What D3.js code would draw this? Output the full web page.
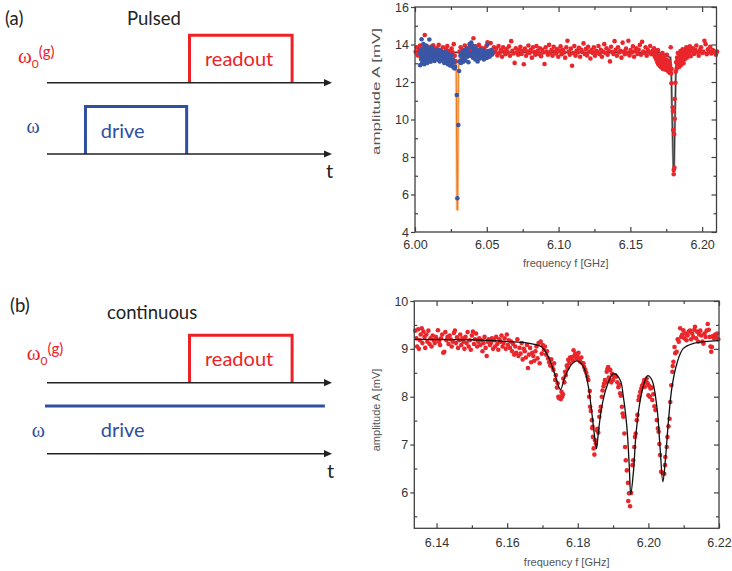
<!DOCTYPE html>
<html>
<head>
<meta charset="utf-8">
<script src="https://d3js.org/d3.v7.min.js"></script>
<style>
body { margin: 0; background: #fff; }
svg { display: block; }
.tick text { font-family: "Liberation Sans", Arial, sans-serif; font-size: 12.5px; fill: #333; }
.tick line { stroke: #404040; stroke-width: 1.2; }
.lab { font-family: "Liberation Sans", Arial, sans-serif; font-size: 11px; fill: #555; }
</style>
</head>
<body>
<svg id="fig" width="732" height="571"></svg>
<script>
// ---- schematic timing (time units 0..10 on each t axis)
var readoutPulse = [5.0, 8.6];
var drivePulse = [1.35, 4.9];
var contDrive = [-0.07, 9.75];

// ---- (a) pulsed spectroscopy: [frequency GHz, amplitude mV]
var pulsedRed = [
[6.0005,13.62],[6.0012,13.85],[6.0020,13.41],[6.0028,13.70],[6.0035,13.95],[6.0041,13.30],[6.0048,13.58],[6.0055,13.78],[6.0062,13.45],[6.0068,14.51],
[6.0075,13.66],[6.0082,13.92],[6.0090,13.35],[6.0097,13.72],[6.0105,13.55],[6.0112,13.88],[6.0120,13.40],[6.0127,13.96],[6.0135,13.62],[6.0142,13.30],
[6.0150,13.80],[6.0157,13.52],[6.0165,13.98],[6.0172,13.44],[6.0180,13.70],[6.0187,13.25],[6.0195,13.85],[6.0202,13.60],[6.0210,13.38],[6.0217,13.75],
[6.0225,13.92],[6.0232,13.50],[6.0240,13.66],[6.0247,13.20],[6.0255,13.78],[6.0262,13.58],[6.0270,14.02],[6.0277,13.40],[6.0285,13.10],[6.0310,13.62],
[6.0318,13.85],[6.0325,13.48],[6.0332,13.72],[6.0340,13.30],[6.0347,13.95],[6.0355,13.55],[6.0362,13.80],[6.0370,13.42],[6.0377,13.68],[6.0385,13.88],
[6.0392,13.52],[6.0400,13.75],[6.0407,14.33],[6.0415,13.60],[6.0422,13.90],[6.0430,13.35],[6.0437,13.70],[6.0445,13.98],[6.0452,13.50],[6.0460,13.82],
[6.0467,13.62],[6.0475,13.40],[6.0482,13.78],[6.0490,13.55],[6.0497,13.92],[6.0505,14.12],[6.0512,13.65],[6.0520,13.45],[6.0527,14.08],[6.0535,13.70],
[6.0542,13.52],[6.0550,13.85],[6.0558,13.60],[6.0566,13.78],[6.0574,13.42],[6.0582,13.92],[6.0590,13.55],[6.0598,13.70],[6.0606,13.35],[6.0614,13.85],
[6.0622,13.62],[6.0630,13.48],[6.0638,13.76],[6.0646,13.58],[6.0654,13.90],[6.0662,13.40],[6.0670,14.18],[6.0678,13.66],[6.0686,13.52],[6.0694,13.02],
[6.0702,13.80],[6.0710,13.58],[6.0718,13.45],[6.0726,13.72],[6.0734,13.88],[6.0742,13.50],[6.0750,13.66],[6.0758,12.95],[6.0766,13.78],[6.0774,13.40],
[6.0782,13.62],[6.0790,13.95],[6.0798,13.55],[6.0806,13.72],[6.0814,13.30],[6.0822,13.85],[6.0830,13.60],[6.0838,13.45],[6.0846,13.92],[6.0854,13.66],
[6.0862,13.50],[6.0870,13.80],[6.0878,13.38],[6.0886,13.72],[6.0894,13.58],[6.0902,12.96],[6.0910,13.85],[6.0918,13.62],[6.0926,13.45],[6.0934,13.98],
[6.0942,13.55],[6.0950,13.70],[6.0958,13.40],[6.0966,13.88],[6.0974,13.62],[6.0982,13.52],[6.0990,13.76],[6.0998,13.35],[6.1006,13.66],[6.1014,13.90],
[6.1022,13.48],[6.1030,13.72],[6.1038,13.58],[6.1046,13.30],[6.1054,13.85],[6.1062,14.20],[6.1070,13.62],[6.1078,13.45],[6.1086,13.78],[6.1094,12.87],
[6.1102,13.55],[6.1110,13.92],[6.1118,13.40],[6.1126,13.68],[6.1134,13.58],[6.1142,13.82],[6.1150,13.35],[6.1158,13.72],[6.1166,13.60],[6.1174,14.06],
[6.1182,13.50],[6.1190,13.76],[6.1198,13.42],[6.1206,13.88],[6.1214,13.62],[6.1222,13.25],[6.1230,13.70],[6.1238,13.55],[6.1246,13.85],[6.1254,13.40],
[6.1262,13.66],[6.1270,13.58],[6.1278,13.92],[6.1286,13.48],[6.1294,13.72],[6.1302,13.35],[6.1310,13.62],[6.1318,14.02],[6.1326,13.55],[6.1334,13.80],
[6.1342,13.45],[6.1350,13.68],[6.1358,13.10],[6.1366,13.88],[6.1374,13.60],[6.1382,13.50],[6.1390,14.18],[6.1398,13.72],[6.1406,13.40],[6.1414,13.85],
[6.1422,13.58],[6.1430,13.66],[6.1438,13.30],[6.1446,14.10],[6.1454,13.62],[6.1462,13.48],[6.1470,13.78],[6.1478,13.55],[6.1486,14.20],[6.1494,13.42],
[6.1502,13.70],[6.1510,13.58],[6.1518,13.90],[6.1526,13.35],[6.1534,13.66],[6.1542,13.80],[6.1550,13.50],[6.1558,13.72],[6.1566,13.98],[6.1574,13.45],
[6.1582,14.15],[6.1590,13.62],[6.1598,13.55],[6.1606,13.85],[6.1614,13.40],[6.1622,13.70],[6.1630,13.58],[6.1638,13.92],[6.1646,13.48],[6.1654,13.66],
[6.1660,13.52],[6.1665,13.80],[6.1670,13.35],[6.1675,13.62],[6.1680,13.20],[6.1684,13.45],[6.1688,13.05],[6.1692,13.70],[6.1695,12.95],[6.1698,13.30],
[6.1702,13.15],[6.1705,12.85],[6.1708,13.40],[6.1712,13.00],[6.1715,12.78],[6.1718,13.25],[6.1721,12.90],[6.1724,13.55],[6.1727,12.70],[6.1730,13.10],
[6.1733,12.95],[6.1736,13.35],[6.1739,12.80],[6.1742,13.05],[6.1745,12.65],[6.1748,13.20],[6.1751,12.88],[6.1754,13.45],[6.1757,12.72],[6.1760,13.00],
[6.1763,12.58],[6.1766,13.15],[6.1769,12.80],[6.1772,12.50],[6.1775,12.95],[6.1778,12.62],[6.1781,13.85],[6.1784,12.45],[6.1787,12.70],
[6.1786,11.93],[6.1814,11.96],[6.1809,11.09],[6.1795,10.65],[6.1798,10.44],[6.1809,10.04],[6.1798,9.44],[6.1805,9.21],[6.1807,7.43],[6.1802,7.31],[6.1802,7.08],
[6.1816,12.55],[6.1819,13.05],[6.1822,12.70],[6.1825,13.30],[6.1828,12.85],[6.1831,13.55],[6.1834,12.95],[6.1837,13.20],[6.1840,12.80],[6.1843,13.40],
[6.1846,13.05],[6.1849,13.65],[6.1852,12.90],[6.1855,13.25],[6.1858,13.50],[6.1861,13.10],[6.1864,13.75],[6.1867,13.35],[6.1870,13.00],[6.1874,13.55],
[6.1878,13.20],[6.1882,13.70],[6.1886,13.40],[6.1890,13.85],[6.1894,13.30],[6.1898,13.60],[6.1902,13.45],[6.1906,13.75],[6.1910,13.55],[6.1915,13.90],
[6.1920,13.38],[6.1928,13.66],[6.1936,13.80],[6.1944,13.50],[6.1952,13.72],[6.1960,13.95],[6.1968,13.58],[6.1976,13.40],[6.1984,13.70],[6.1992,13.85],
[6.2000,13.55],[6.2008,13.62],[6.2016,14.20],[6.2024,14.02],[6.2032,13.48],[6.2040,13.75],[6.2048,13.60],[6.2056,13.88],[6.2064,13.52],[6.2072,13.70],
[6.2080,13.66],[6.2088,13.58],[6.2096,13.45],[6.2104,13.62]
];
var pulsedBlue = [
[6.0032,13.55],[6.0036,12.90],[6.0040,13.75],[6.0043,13.20],[6.0046,14.28],[6.0049,13.40],[6.0052,13.05],[6.0055,13.62],[6.0058,14.02],[6.0061,13.30],
[6.0064,12.95],[6.0067,13.85],[6.0070,13.15],[6.0073,13.50],[6.0076,13.95],[6.0079,13.25],[6.0082,13.68],[6.0085,13.02],[6.0088,13.42],[6.0091,13.80],
[6.0094,13.18],[6.0097,13.55],[6.0100,14.27],[6.0103,13.35],[6.0106,13.70],[6.0109,13.08],[6.0112,13.48],[6.0116,13.88],[6.0120,13.22],[6.0124,13.60],
[6.0128,13.38],[6.0132,13.75],[6.0136,13.12],[6.0140,13.52],[6.0144,13.30],[6.0148,13.66],[6.0152,13.45],[6.0156,13.20],[6.0160,13.58],[6.0164,13.35],
[6.0168,13.72],[6.0172,13.10],[6.0176,13.48],[6.0180,13.28],[6.0184,13.62],[6.0188,13.40],[6.0192,13.15],[6.0196,13.55],[6.0200,13.32],[6.0204,13.02],
[6.0208,13.45],[6.0212,13.25],[6.0216,13.60],[6.0220,13.10],[6.0224,13.38],[6.0228,12.95],[6.0232,13.30],[6.0236,13.48],[6.0240,13.12],[6.0244,12.88],
[6.0248,13.35],[6.0252,13.05],[6.0256,13.42],[6.0260,12.85],[6.0264,13.18],[6.0268,12.78],[6.0272,13.05],[6.0276,12.72],[6.0279,12.82],
[6.0291,11.31],[6.0302,9.71],[6.0295,5.80],[6.0307,12.59],
[6.0312,13.10],[6.0316,13.40],[6.0320,13.02],[6.0324,13.55],[6.0328,13.20],[6.0332,13.65],[6.0336,13.08],[6.0340,13.45],[6.0344,13.30],[6.0348,13.70],
[6.0352,13.15],[6.0356,13.52],[6.0360,13.78],[6.0364,13.35],[6.0368,13.62],[6.0372,13.05],[6.0376,13.48],[6.0380,14.02],[6.0384,13.40],[6.0388,13.85],
[6.0392,14.10],[6.0396,13.55],[6.0400,13.95],[6.0404,13.30],[6.0408,13.72],[6.0412,13.50],[6.0416,13.88],[6.0420,13.20],[6.0424,13.62],[6.0428,13.45],
[6.0432,13.75],[6.0436,13.10],[6.0440,13.55],[6.0444,13.35],[6.0448,13.68],[6.0452,13.25],[6.0456,13.50],[6.0460,13.62],[6.0464,13.40],[6.0468,13.72],
[6.0472,13.30],[6.0476,13.55],[6.0480,13.20],[6.0484,13.48],[6.0488,13.65],[6.0492,13.38],[6.0496,13.58],[6.0500,13.28],[6.0505,14.00],[6.0510,13.50],
[6.0515,13.62],[6.0520,13.35],[6.0525,13.55],[6.0530,13.70],[6.0535,13.45],[6.0540,13.60]
];
var pulsedRedFit = [[6.000,13.58],[6.170,13.57],[6.1780,13.30],[6.1785,12.60],[6.1790,10.50],[6.1800,7.25],[6.1804,7.25],[6.1812,10.50],[6.1817,12.60],[6.1822,13.30],[6.190,13.57],[6.210,13.58]];
var pulsedBlueFit = [[6.000,13.50],[6.026,13.45],[6.0280,13.20],[6.0287,12.80],[6.0293,5.20],[6.0297,5.20],[6.0302,12.70],[6.0310,13.20],[6.033,13.45],[6.0545,13.50]];

// ---- (b) continuous spectroscopy
var contRed = [
[6.1340,9.38],[6.1343,9.22],[6.1345,9.05],[6.1348,9.41],[6.1350,9.00],[6.1353,9.18],[6.1355,9.30],[6.1358,9.43],[6.1360,9.12],[6.1363,9.36],
[6.1366,9.25],[6.1368,9.02],[6.1371,9.30],[6.1374,9.15],[6.1377,9.38],[6.1380,9.10],[6.1383,9.22],[6.1386,9.05],[6.1389,9.28],[6.1392,9.18],
[6.1395,9.12],[6.1398,9.25],[6.1401,9.20],[6.1404,9.39],[6.1407,9.15],[6.1410,9.08],[6.1413,9.22],[6.1416,9.30],[6.1419,8.92],[6.1422,8.94],
[6.1425,9.35],[6.1428,9.18],[6.1431,9.25],[6.1434,9.10],[6.1437,9.28],[6.1440,9.20],[6.1443,9.05],[6.1446,9.15],[6.1449,9.33],[6.1452,9.38],
[6.1455,9.12],[6.1458,9.24],[6.1461,9.02],[6.1464,9.18],[6.1467,9.30],[6.1470,9.08],[6.1473,9.22],[6.1476,9.15],[6.1479,9.00],[6.1482,9.25],
[6.1485,9.12],[6.1488,9.35],[6.1491,9.05],[6.1494,9.18],[6.1497,8.98],[6.1500,9.28],[6.1503,9.36],[6.1506,9.10],[6.1509,9.20],[6.1512,9.32],
[6.1515,9.05],[6.1518,9.15],[6.1521,9.22],[6.1524,9.08],[6.1527,9.18],[6.1530,8.95],[6.1533,9.12],[6.1536,9.25],[6.1539,9.02],[6.1542,8.85],
[6.1545,9.15],[6.1548,9.20],[6.1551,9.08],[6.1554,9.12],[6.1557,9.22],[6.1560,9.00],[6.1563,9.18],[6.1566,9.05],[6.1569,9.25],[6.1572,9.10],
[6.1575,8.98],[6.1578,9.20],[6.1581,9.15],[6.1584,9.28],[6.1587,9.05],[6.1590,9.12],[6.1593,9.22],[6.1596,9.00],[6.1599,9.30],[6.1602,9.08],
[6.1605,9.18],[6.1608,9.02],[6.1611,9.15],[6.1614,8.95],[6.1617,9.10],[6.1620,8.88],[6.1623,9.05],[6.1626,8.92],[6.1629,9.20],[6.1632,8.85],
[6.1635,9.02],[6.1638,8.90],[6.1641,9.12],[6.1644,8.78],[6.1647,9.00],[6.1650,8.95],[6.1653,8.82],[6.1656,9.08],[6.1659,8.60],[6.1662,8.88],
[6.1665,9.02],[6.1668,8.72],[6.1671,8.92],[6.1674,8.85],[6.1677,8.75],[6.1680,8.95],[6.1683,9.05],[6.1686,8.80],[6.1689,9.12],[6.1692,8.70],
[6.1695,9.15],[6.1698,8.90],[6.1701,9.08],[6.1704,8.98],[6.1707,9.05],[6.1710,8.88],[6.1713,8.95],[6.1716,8.80],[6.1719,8.72],[6.1722,8.65],
[6.1725,8.78],[6.1728,8.62],[6.1731,8.56],[6.1733,8.70],[6.1736,8.35],[6.1738,8.45],[6.1741,8.19],[6.1743,8.28],[6.1745,8.00],[6.1747,7.97],
[6.1750,8.00],[6.1752,7.95],[6.1754,8.10],[6.1756,8.00],[6.1758,8.05],[6.1759,8.38],[6.1762,8.30],[6.1764,8.52],[6.1766,8.45],[6.1769,8.65],
[6.1771,8.60],[6.1773,8.77],[6.1776,8.70],[6.1778,8.82],[6.1781,8.80],[6.1783,8.83],[6.1786,8.75],[6.1788,8.97],[6.1790,8.85],[6.1793,8.90],
[6.1796,8.80],[6.1799,8.85],[6.1802,8.92],[6.1804,8.78],[6.1807,8.73],[6.1810,8.82],[6.1813,8.70],[6.1816,8.70],[6.1818,8.62],[6.1821,8.56],
[6.1824,8.50],[6.1827,8.42],[6.1830,8.35],[6.1832,8.00],[6.1834,8.12],[6.1835,7.79],[6.1837,7.70],[6.1840,7.51],[6.1841,7.34],[6.1842,7.37],
[6.1843,7.16],[6.1845,6.92],[6.1847,6.79],[6.1849,7.09],[6.1851,7.02],[6.1854,7.30],[6.1856,7.33],[6.1858,7.25],[6.1861,7.58],[6.1863,7.70],
[6.1865,7.79],[6.1868,8.00],[6.1870,8.13],[6.1873,8.22],[6.1875,8.28],[6.1877,8.35],[6.1880,8.30],[6.1882,8.52],[6.1884,8.58],[6.1886,8.62],
[6.1888,8.40],[6.1890,8.35],[6.1892,8.56],[6.1895,8.30],[6.1897,8.48],[6.1900,8.35],[6.1903,8.42],[6.1906,8.45],[6.1909,8.42],[6.1912,8.30],
[6.1915,8.20],[6.1918,8.25],[6.1920,8.07],[6.1922,8.02],[6.1925,7.79],[6.1927,7.65],[6.1929,7.58],[6.1932,7.23],[6.1934,6.95],[6.1936,6.67],
[6.1939,6.46],[6.1942,6.20],[6.1943,5.82],[6.1945,5.98],[6.1948,5.71],[6.1951,5.99],[6.1955,6.57],[6.1957,6.67],[6.1960,6.95],[6.1962,7.16],
[6.1964,7.23],[6.1967,7.51],[6.1969,7.62],[6.1972,7.93],[6.1974,8.01],[6.1977,8.10],[6.1980,8.17],[6.1982,8.23],[6.1986,8.28],[6.1988,8.35],
[6.1990,8.21],[6.1993,8.32],[6.1995,8.38],[6.1998,8.28],[6.2000,8.03],[6.2002,8.23],[6.2004,8.00],[6.2006,8.17],[6.2010,8.19],[6.2011,7.93],
[6.2014,8.05],[6.2017,7.80],[6.2020,7.72],[6.2024,7.51],[6.2027,7.34],[6.2029,7.27],[6.2031,7.01],[6.2033,6.78],[6.2036,6.43],[6.2040,6.41],
[6.2045,6.39],[6.2047,6.57],[6.2048,6.74],[6.2052,6.95],[6.2054,7.16],[6.2057,7.38],[6.2060,7.54],[6.2062,7.89],[6.2065,8.24],[6.2068,8.52],
[6.2069,8.64],[6.2071,8.73],[6.2074,9.04],[6.2076,8.91],[6.2080,8.94],[6.2083,9.20],[6.2086,9.15],[6.2090,9.43],[6.2093,9.25],[6.2096,9.30],
[6.2099,9.39],[6.2102,9.22],[6.2105,9.32],[6.2108,9.18],[6.2111,9.28],[6.2114,9.36],[6.2118,9.38],[6.2121,9.20],[6.2124,9.32],[6.2127,9.25],
[6.2130,9.40],[6.2132,9.46],[6.2135,9.22],[6.2138,9.36],[6.2141,9.15],[6.2144,9.30],[6.2147,9.38],[6.2150,9.28],[6.2153,9.15],[6.2156,9.11],
[6.2159,9.32],[6.2162,9.25],[6.2165,9.38],[6.2168,9.52],[6.2171,9.40],[6.2174,9.25],[6.2176,9.05],[6.2178,8.94],[6.2180,9.04],[6.2183,9.27],
[6.2186,9.22],[6.2189,9.30],[6.2192,9.25],[6.2195,9.32],[6.2198,9.20]
];
var contFit = [
[6.1337,9.20],[6.1500,9.19],[6.1608,9.15],[6.1650,9.13],[6.1674,9.10],[6.1698,9.04],[6.1717,8.83],[6.1736,8.45],[6.1751,8.15],[6.1764,8.42],
[6.1783,8.68],[6.1797,8.75],[6.1816,8.63],[6.1830,8.21],[6.1840,7.65],[6.1849,7.09],[6.1853,6.91],[6.1858,7.23],[6.1868,7.79],[6.1882,8.21],
[6.1901,8.48],[6.1920,8.35],[6.1929,8.00],[6.1939,7.37],[6.1946,6.53],[6.1950,5.96],[6.1958,6.46],[6.1965,7.23],[6.1977,7.93],[6.1991,8.35],
[6.1998,8.44],[6.2010,8.35],[6.2024,7.79],[6.2033,6.95],[6.2041,6.22],[6.2048,6.67],[6.2057,7.51],[6.2067,8.21],[6.2081,8.70],[6.2099,9.01],
[6.2128,9.115],[6.2160,9.15],[6.2200,9.17]
];

var xTicksA = [6.00, 6.05, 6.10, 6.15, 6.20], xMinorA = [6.025, 6.075, 6.125, 6.175];
var yTicksA = [4, 6, 8, 10, 12, 14, 16], yMinorA = [5, 7, 9, 11, 13, 15];
var xTicksB = [6.14, 6.16, 6.18, 6.20, 6.22], xMinorB = [6.15, 6.17, 6.19, 6.21];
var yTicksB = [6, 7, 8, 9, 10], yMinorB = [5.5, 6.5, 7.5, 8.5, 9.5];

var svg = d3.select("#fig");
var RED = "#ec2227", BLUE = "#2f4f9f", INK = "#222";
var sans = "Lato, 'Open Sans', sans-serif";
var serif = "'Liberation Serif', 'DejaVu Serif', serif";

// ================= schematics =================
var tx = d3.scaleLinear().domain([0, 10]).range([47, 332]);
var pulseH = 47.5;

function timeAxis(y) {
  svg.append("line").attr("x1", tx(0)).attr("x2", tx(10) - 6).attr("y1", y).attr("y2", y)
    .attr("stroke", INK).attr("stroke-width", 1.4);
  svg.append("path").attr("d", "M" + tx(10) + "," + y + "l-8,-3.6v7.2z").attr("fill", INK);
}
function pulse(span, y, color) {
  svg.append("path")
    .attr("d", "M" + tx(span[0]) + "," + y + "V" + (y - pulseH) + "H" + tx(span[1]) + "V" + y)
    .attr("fill", "none").attr("stroke", color).attr("stroke-width", 3);
}
function txt(s, x, y, size, color, fam) {
  return svg.append("text").attr("x", x).attr("y", y).attr("font-family", fam || sans)
    .attr("font-size", size).attr("fill", color).text(s);
}
function omega0g(x, y) {
  var t = svg.append("text").attr("x", x).attr("y", y).attr("fill", RED);
  t.append("tspan").attr("font-family", serif).attr("font-size", 21).text("ω");
  t.append("tspan").attr("font-family", sans).attr("font-size", 12).attr("dy", 5).text("0");
  t.append("tspan").attr("font-family", sans).attr("font-size", 15).attr("dy", -11).text("(g)");
}

// (a) pulsed
txt("(a)", 5, 25, 18.5, INK);
txt("Pulsed", 127, 25, 18.5, INK);
omega0g(18, 63);
pulse(readoutPulse, 82.7, RED);
timeAxis(82.7);
txt("readout", 205, 65.7, 20, RED);
svg.append("text").attr("x", 26.5).attr("y", 133).attr("font-family", serif).attr("font-size", 20)
  .attr("fill", BLUE).text("ω");
pulse(drivePulse, 154, BLUE);
timeAxis(154);
txt("drive", 100.7, 137.7, 20, BLUE);
txt("t", 326, 178, 20, INK);

// (b) continuous
txt("(b)", 10, 311.7, 18.5, INK);
txt("continuous", 107, 319, 18.5, INK);
omega0g(26.7, 360);
pulse(readoutPulse, 382.7, RED);
timeAxis(382.7);
txt("readout", 205, 366.4, 20, RED);
svg.append("line").attr("x1", tx(contDrive[0])).attr("x2", tx(contDrive[1]))
  .attr("y1", 406).attr("y2", 406).attr("stroke", BLUE).attr("stroke-width", 3);
svg.append("text").attr("x", 31.7).attr("y", 436.7).attr("font-family", serif).attr("font-size", 20)
  .attr("fill", BLUE).text("ω");
txt("drive", 100.7, 437.3, 20, BLUE);
timeAxis(453.7);
txt("t", 327, 478, 20, INK);

// ================= plots =================
function frame(x, y, o) {
  var g = svg.append("g");
  var x0 = x.range()[0], x1 = x.range()[1], y0 = y.range()[0], y1 = y.range()[1];
  // left: major ticks outward with labels, minor inward
  g.append("g").attr("transform", "translate(" + x0 + ",0)")
    .call(d3.axisLeft(y).tickValues(o.yt).tickSize(4).tickPadding(2).tickFormat(d3.format("d")));
  g.append("g").attr("transform", "translate(" + x0 + ",0)")
    .call(d3.axisLeft(y).tickValues(o.ym).tickSize(-3).tickFormat(""));
  // bottom: inward ticks with labels
  g.append("g").attr("transform", "translate(0," + y0 + ")")
    .call(d3.axisBottom(x).tickValues(o.xt).tickSize(-5).tickPadding(o.xpad).tickFormat(d3.format(".2f")));
  g.append("g").attr("transform", "translate(0," + y0 + ")")
    .call(d3.axisBottom(x).tickValues(o.xm).tickSize(-3).tickFormat(""));
  // top and right mirrored ticks
  g.append("g").attr("transform", "translate(0," + y1 + ")")
    .call(d3.axisTop(x).tickValues(o.xt).tickSize(-5).tickFormat(""));
  g.append("g").attr("transform", "translate(0," + y1 + ")")
    .call(d3.axisTop(x).tickValues(o.xm).tickSize(-3).tickFormat(""));
  g.append("g").attr("transform", "translate(" + x1 + ",0)")
    .call(d3.axisRight(y).tickValues(o.yt).tickSize(-5).tickFormat(""));
  g.append("g").attr("transform", "translate(" + x1 + ",0)")
    .call(d3.axisRight(y).tickValues(o.ym).tickSize(-3).tickFormat(""));
  g.selectAll(".domain").remove();
  g.append("rect").attr("x", x0).attr("y", y1).attr("width", x1 - x0).attr("height", y0 - y1)
    .attr("fill", "none").attr("stroke", "#404040").attr("stroke-width", 1.3);
  svg.append("text").attr("class", "lab").attr("x", (x0 + x1) / 2).attr("y", o.xlabY)
    .attr("text-anchor", "middle").text("frequency f [GHz]");
  var yl = svg.append("text").attr("class", "lab")
    .attr("transform", "translate(380," + o.ylabY + ") rotate(-90)")
    .attr("text-anchor", "middle").text("amplitude A [mV]");
  if (o.ylabLen) yl.attr("textLength", o.ylabLen).attr("lengthAdjust", "spacingAndGlyphs");
}
function dots(data, x, y, color) {
  svg.append("g").selectAll("circle").data(data).join("circle")
    .attr("cx", function(d) { return x(d[0]); })
    .attr("cy", function(d) { return y(d[1]); })
    .attr("r", 2.3).attr("fill", color);
}

// (a) pulsed plot
var xA = d3.scaleLinear().domain([6.00, 6.21]).range([415, 716.5]);
var yA = d3.scaleLinear().domain([4, 16]).range([232, 7]);
var lineA = d3.line().x(function(d) { return xA(d[0]); }).y(function(d) { return yA(d[1]); });
svg.append("path").attr("d", lineA(pulsedRedFit)).attr("fill", "none").attr("stroke", "#9a9a9a").attr("stroke-width", 2.4);
svg.append("path").attr("d", lineA(pulsedRedFit)).attr("fill", "none").attr("stroke", "#333").attr("stroke-width", 1);
svg.append("path").attr("d", lineA(pulsedBlueFit)).attr("fill", "none").attr("stroke", "#fbd3ae").attr("stroke-width", 3);
svg.append("path").attr("d", lineA(pulsedBlueFit)).attr("fill", "none").attr("stroke", "#f07b1c").attr("stroke-width", 1.1);
dots(pulsedRed, xA, yA, "#e9262b");
dots(pulsedBlue, xA, yA, "#3a56a6");
frame(xA, yA, { yt: yTicksA, ym: yMinorA, xt: xTicksA, xm: xMinorA, xpad: 8.6, xlabY: 266.7, ylabY: 91.5, ylabLen: 127 });

// (b) continuous plot
var xB = d3.scaleLinear().domain([6.1337, 6.22]).range([414.3, 719]);
var yB = d3.scaleLinear().domain([5.25, 10]).range([528.3, 301]);
var lineB = d3.line().curve(d3.curveCatmullRom.alpha(0.5))
  .x(function(d) { return xB(d[0]); }).y(function(d) { return yB(d[1]); });
dots(contRed, xB, yB, "#e9262b");
svg.append("path").attr("d", lineB(contFit)).attr("fill", "none").attr("stroke", "#111").attr("stroke-width", 1.3);
frame(xB, yB, { yt: yTicksB, ym: yMinorB, xt: xTicksB, xm: xMinorB, xpad: 9.5, xlabY: 566, ylabY: 410 });
</script>
</body>
</html>
